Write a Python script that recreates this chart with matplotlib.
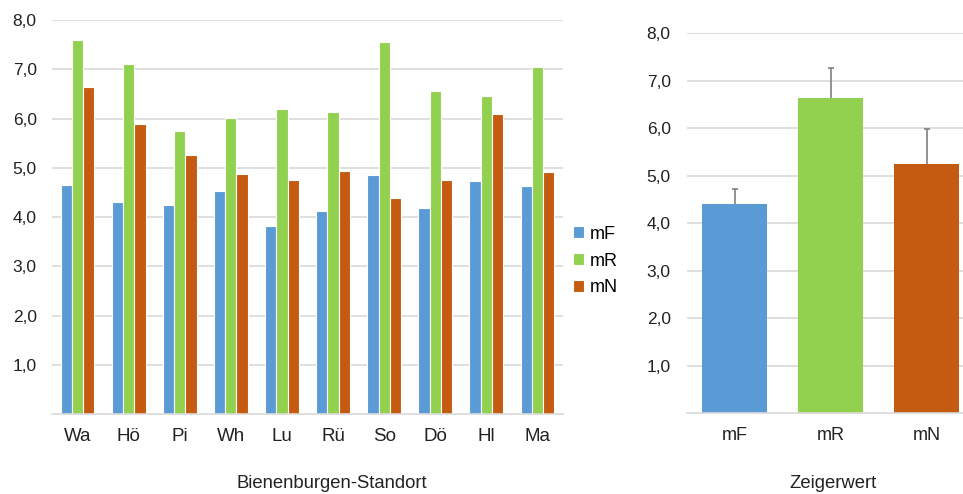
import numpy as np
import matplotlib
matplotlib.use('Agg')
import matplotlib.pyplot as plt

plt.rcParams['font.family'] = ['Liberation Sans', 'DejaVu Sans']

# Data
standorte = ['Wa', 'Hö', 'Pi', 'Wh', 'Lu', 'Rü', 'So', 'Dö', 'Hl', 'Ma']
mF = [4.65, 4.31, 4.24, 4.53, 3.81, 4.12, 4.85, 4.18, 4.74, 4.63]
mR = [7.59, 7.11, 5.74, 6.01, 6.19, 6.14, 7.55, 6.56, 6.45, 7.04]
mN = [6.64, 5.89, 5.25, 4.88, 4.75, 4.93, 4.39, 4.75, 6.10, 4.91]

zeiger = ['mF', 'mR', 'mN']
zeiger_mean = [4.41, 6.64, 5.25]
zeiger_err = [0.32, 0.64, 0.73]

colors = ['#5B9BD5', '#92D050', '#C55A11']
grid_c = '#D9D9D9'

fig = plt.figure(figsize=(9.63, 4.94), dpi=100)


def style_axis(ax, pad):
    ax.set_ylim(0, 8)
    ax.set_yticks(np.arange(1, 9))
    ax.set_yticklabels([f'{v},0' for v in range(1, 9)])
    ax.yaxis.grid(True, color=grid_c, linewidth=1.2)
    ax.set_axisbelow(True)
    for s in ['top', 'right', 'left']:
        ax.spines[s].set_visible(False)
    ax.spines['bottom'].set_color(grid_c)
    ax.spines['bottom'].set_linewidth(1.2)
    ax.tick_params(axis='both', length=0, labelsize=12.5, colors='#222222')
    ax.tick_params(axis='y', pad=pad)
    ax.tick_params(axis='x', pad=10)


# Left chart: values per site
ax1 = fig.add_axes([0.054, 0.1619, 0.5306, 0.7976])
x = np.arange(len(standorte))
w = 0.22
for i, (vals, name) in enumerate(zip([mF, mR, mN], zeiger)):
    ax1.bar(x + (i - 1) * w, vals, w, color=colors[i], edgecolor='white',
            linewidth=0.8, label=name)
ax1.set_xlim(-0.5, len(standorte) - 0.5)
ax1.set_xticks(x)
ax1.set_xticklabels(standorte)
style_axis(ax1, 11)
ax1.tick_params(axis='x', labelsize=13.5)
ax1.legend(loc='upper left', bbox_to_anchor=(0.588, 0.558), bbox_transform=fig.transFigure,
           frameon=False, fontsize=13, handlelength=0.6, handleheight=0.6,
           handletextpad=0.3, labelspacing=0.55, borderaxespad=0)
fig.text(332 / 963, 1 - 483 / 494, 'Bienenburgen-Standort', ha='center', va='center',
         fontsize=13.3, color='#222222')

# Right chart: mean indicator values with upper error bars
ax2 = fig.add_axes([0.7131, 0.1633, 0.2989, 0.7692])
xz = np.arange(len(zeiger))
ax2.bar(xz, zeiger_mean, 0.68, color=colors)
eb = ax2.errorbar(xz, zeiger_mean, yerr=[np.zeros(len(zeiger_err)), zeiger_err],
                  fmt='none', ecolor='#808080', elinewidth=1.2, capsize=2, capthick=1.2)
eb[1][0].set_visible(False)  # hide lower caps
ax2.set_xlim(-0.5, len(zeiger) - 0.5)
ax2.set_xticks(xz)
ax2.set_xticklabels(zeiger)
style_axis(ax2, 11.5)
ax2.tick_params(axis='x', labelsize=13)
fig.text(833 / 963, 1 - 483 / 494, 'Zeigerwert', ha='center', va='center',
         fontsize=13.3, color='#222222')

fig.savefig('out.png', dpi=100)
